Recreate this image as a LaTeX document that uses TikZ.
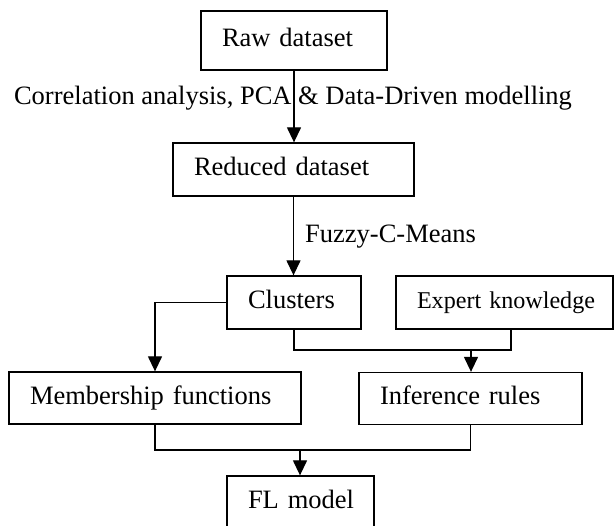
\documentclass[tikz,border=0pt]{standalone}
\usepackage{fontspec}
\setmainfont{Liberation Serif}
\usetikzlibrary{arrows.meta}
\begin{document}
\begin{tikzpicture}[x=1pt,y=-1pt,
  box/.style={draw, line width=1.3pt, rectangle, inner xsep=21pt, inner ysep=0pt,
    align=left, text height=18.3pt, text depth=5.8pt, font=\fontsize{26.5}{30}\selectfont},
  conn/.style={line width=1.3pt},
  arr/.style={line width=1.3pt, -{Triangle[length=15pt,width=14pt]}},
  lbl/.style={font=\fontsize{26.5}{30}\selectfont, inner sep=0pt}]
\useasboundingbox (0,0) rectangle (616,526);
\node[box, text width=144pt, minimum height=59pt] (raw) at (294,40.5) {\mbox{Raw dataset}};
\node[box, text width=199pt, minimum height=53pt] (red) at (293.5,169.5) {\mbox{Reduced dataset}};
\node[box, text width=92pt, minimum height=53pt] (clu) at (294,302.5) {\mbox{Clusters}};
\node[box, text width=175pt, minimum height=53pt, text height=16.6pt, text depth=5.3pt,
  font=\fontsize{24.1}{28}\selectfont] (exp) at (504.5,302.5) {\mbox{Expert knowledge}};
\node[box, text width=250pt, minimum height=52pt] (mem) at (155,398) {\mbox{Membership functions}};
\node[box, text width=181pt, minimum height=52pt] (inf) at (470.5,398.5) {\mbox{Inference rules}};
\node[box, text width=105pt, minimum height=52pt] (fl) at (300.5,502) {\mbox{FL model}};
\node[lbl] (l1) at (293,98) {Correlation analysis, PCA \& Data-Driven modelling};
\node[lbl, anchor=west] (l2) at (305,237) {Fuzzy-C-Means};
\coordinate (j1) at (471,350);
\coordinate (j2) at (300,450);
\coordinate (ek) at (511,329);
\draw[arr] (raw.south) -- (raw.south |- red.north);
\draw[arr] (red.south) -- (red.south |- clu.north);
\draw[arr] (clu.west) -| (mem.north);
\draw[conn] (clu.south) |- (ek |- j1) -- (ek);
\draw[arr] (j1) -- (j1 |- inf.north);
\draw[conn] (mem.south) |- (inf.south |- j2) -- (inf.south);
\draw[arr] (j2) -- (j2 |- fl.north);
\end{tikzpicture}
\end{document}
